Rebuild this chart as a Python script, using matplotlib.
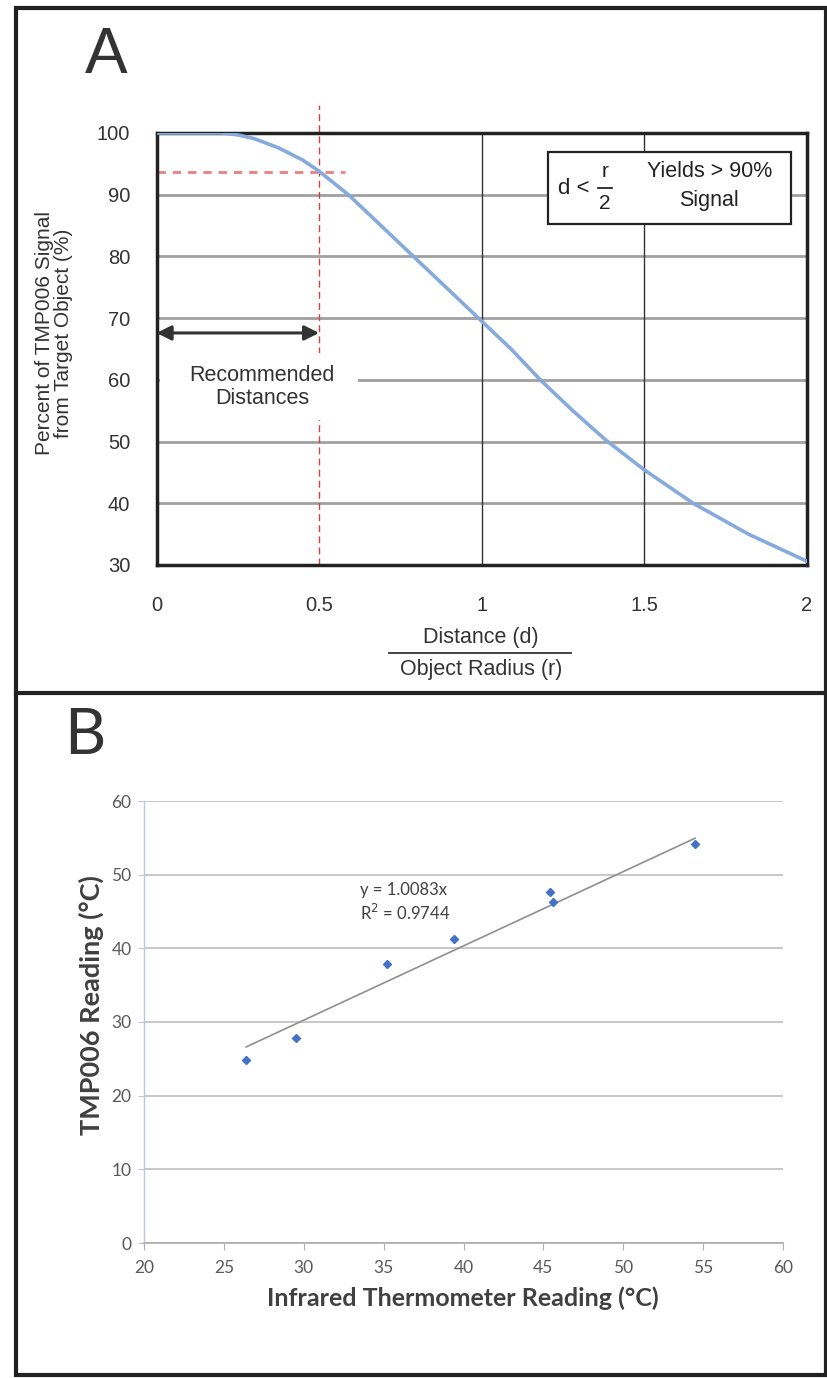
import matplotlib
matplotlib.use("Agg")
import matplotlib.pyplot as plt
from matplotlib.patches import Rectangle
from matplotlib.lines import Line2D

# Panel A data: signal fraction vs d/r
ratio = [0, 0.1, 0.2, 0.25, 0.3, 0.375, 0.45, 0.5, 0.59, 0.69, 0.79, 0.89,
         0.99, 1.09, 1.18, 1.28, 1.38, 1.5, 1.65, 1.82, 2.0]
signal = [100, 100, 100, 99.7, 99.1, 97.6, 95.6, 93.8, 90, 85, 80, 75,
          70, 65, 60, 55, 50.3, 45.4, 40, 35, 30.6]
a_yticks = [30, 40, 50, 60, 70, 80, 90, 100]
a_xticks = [0, 0.5, 1, 1.5, 2]
a_xticklabels = ["0", "0.5", "1", "1.5", "2"]

# Panel B data: TMP006 vs infrared thermometer
ir_temp = [26.4, 29.5, 35.2, 39.4, 45.4, 45.6, 54.5]
tmp006 = [24.8, 27.8, 37.9, 41.3, 47.6, 46.3, 54.2]
slope = 1.0083
b_xticks = [20, 25, 30, 35, 40, 45, 50, 55, 60]
b_yticks = [0, 10, 20, 30, 40, 50, 60]

W, H = 827, 1378
narrow = ["Liberation Sans Narrow", "Liberation Sans", "DejaVu Sans"]
calib = ["Lato", "DejaVu Sans"]

fig = plt.figure(figsize=(W / 100, H / 100), dpi=100)


def fx(px):
    return px / W


def fy(py):
    return 1 - py / H


# outer frame and divider
fig.add_artist(Rectangle((fx(16), fy(1375)), fx(826) - fx(16), fy(8) - fy(1375),
                         transform=fig.transFigure, fill=False, lw=3, ec="#222222"))
fig.add_artist(Line2D([fx(16), fx(827)], [fy(693), fy(693)], transform=fig.transFigure,
                      lw=3, color="#222222"))

# ---------------- Panel A ----------------
axA = fig.add_axes([fx(156.5), fy(565), fx(807) - fx(156.5), fy(133) - fy(565)])
axA.set_xlim(0, 2)
axA.set_ylim(30, 100)
axA.set_axisbelow(True)
for y in a_yticks[1:-1]:
    axA.axhline(y, color="#a0a0a0", lw=2, zorder=0.5)
for x in [1, 1.5]:
    axA.axvline(x, color="#333333", lw=1, zorder=0.6)
for s in axA.spines.values():
    s.set_linewidth(2.5)
    s.set_color("#222222")

axA.plot(ratio, signal, color="#86aadc", lw=2.6, zorder=3, solid_capstyle="round",
         solid_joinstyle="round")

# red guides
axA.plot([0.5, 0.5], [30, 104.5], color="#d84040", lw=1, ls=(0, (5, 3)), clip_on=False, zorder=2)
axA.plot([0, 0.58], [93.7, 93.7], color="#e98080", lw=2, ls=(0, (3, 2.5)), zorder=2)

# white patch behind the recommended text
axA.add_patch(Rectangle((0.01, 53.5), 0.61, 10.8, fc="white", ec="none", zorder=2.2))
axA.annotate("", xy=(0.0, 67.6), xytext=(0.5, 67.6),
             arrowprops=dict(arrowstyle="<|-|>", color="#333333", lw=2.2,
                             mutation_scale=22, shrinkA=0, shrinkB=0), zorder=4)
axA.text(0.325, 58.8, "Recommended\nDistances", ha="center", va="center",
         fontsize=15.5, family=narrow, color="#333333", linespacing=1.15, zorder=4)

# box
axA.add_patch(Rectangle((1.205, 85.3), 0.745, 11.6, fc="white", ec="#222222", lw=1.6, zorder=4))
axA.text(1.282, 91.0, "d <", ha="center", va="center", fontsize=16, family=narrow, color="#222222", zorder=5)
axA.text(1.379, 93.7, "r", ha="center", va="center", fontsize=15, family=narrow, color="#222222", zorder=5)
axA.text(1.379, 88.5, "2", ha="center", va="center", fontsize=15, family=narrow, color="#222222", zorder=5)
axA.plot([1.358, 1.40], [91.1, 91.1], color="#222222", lw=1.3, zorder=5)
axA.text(1.70, 93.8, "Yields > 90%", ha="center", va="center", fontsize=15.5, family=narrow, color="#222222", zorder=5)
axA.text(1.70, 89.0, "Signal", ha="center", va="center", fontsize=15.5, family=narrow, color="#222222", zorder=5)

axA.set_yticks(a_yticks)
axA.set_xticks(a_xticks)
axA.set_xticklabels(a_xticklabels)
axA.tick_params(length=0, labelsize=14.5, labelcolor="#333333")
axA.tick_params(axis="y", pad=19)
axA.tick_params(axis="x", pad=22)
for lab in axA.get_xticklabels() + axA.get_yticklabels():
    lab.set_family(narrow)

fig.text(fx(54), fy(333), "Percent of TMP006 Signal\nfrom Target Object (%)", rotation=90,
         ha="center", va="center", fontsize=15, family=narrow, color="#333333",
         multialignment="center", linespacing=1.0)
fig.text(fx(481), fy(637), "Distance (d)", ha="center", va="center", fontsize=15.5,
         family=narrow, color="#333333")
fig.add_artist(Line2D([fx(389), fx(571)], [fy(653), fy(653)], transform=fig.transFigure,
                      lw=1.3, color="#333333"))
fig.text(fx(481), fy(669), "Object Radius (r)", ha="center", va="center", fontsize=15.5,
         family=narrow, color="#333333")
fig.text(fx(85), fy(56), "A", ha="left", va="center", fontsize=46, family=narrow, color="#333333")

# ---------------- Panel B ----------------
axB = fig.add_axes([fx(144), fy(1243), fx(783) - fx(144), fy(801) - fy(1243)])
axB.set_xlim(20, 60)
axB.set_ylim(0, 60)
axB.set_axisbelow(True)
axB.yaxis.grid(True, color="#c4c4c4", lw=1.3)
axB.spines["top"].set_visible(False)
axB.spines["right"].set_visible(False)
axB.spines["left"].set_color("#c0c6dc")
axB.spines["bottom"].set_color("#b0b0b0")
axB.spines["left"].set_linewidth(1)
axB.spines["bottom"].set_linewidth(1.3)

fit_x = [min(ir_temp), max(ir_temp)]
fit_y = [slope * v for v in fit_x]
axB.plot(fit_x, fit_y, color="#8f8f8f", lw=1.2, zorder=2)
axB.plot(ir_temp, tmp006, ls="none", marker="D", ms=4.5, color="#4472c4", zorder=3)
axB.text(33.5, 47.9, "y = 1.0083x", ha="left", va="center", fontsize=12, family=calib, color="#404040")
axB.text(33.5, 44.8, "R$^2$ = 0.9744", ha="left", va="center", fontsize=12, family=calib, color="#404040")

axB.set_xticks(b_xticks)
axB.set_yticks(b_yticks)
axB.tick_params(axis="x", length=5, color="#b0b0b0", labelsize=12.5, labelcolor="#595959", pad=7)
axB.tick_params(axis="y", length=4, color="#c0c6dc", labelsize=12.5, labelcolor="#595959", pad=5)
for lab in axB.get_xticklabels() + axB.get_yticklabels():
    lab.set_family(calib)

fig.text(fx(91), fy(1005), "TMP006 Reading (°C)", rotation=90, ha="center", va="center",
         fontsize=19.5, fontweight="bold", family=calib, color="#404040")
fig.text(fx(463), fy(1298), "Infrared Thermometer Reading (°C)", ha="center", va="center",
         fontsize=18, fontweight="bold", family=calib, color="#404040")
fig.text(fx(64), fy(736), "B", ha="left", va="center", fontsize=46, family=calib, color="#333333")

fig.savefig("out.png", dpi=100)
